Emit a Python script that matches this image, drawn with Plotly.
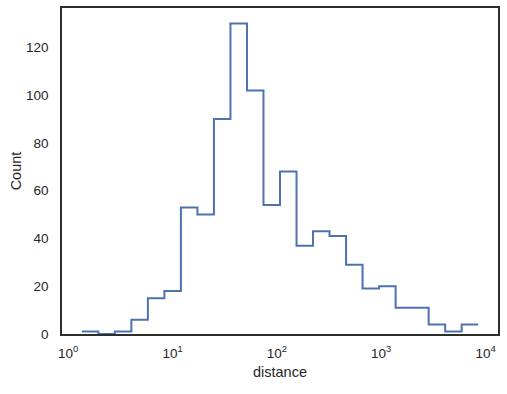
import numpy as np
import plotly.graph_objects as go

# Histogram of planet distances (log-spaced bins, step outline)
dist_min = 1.35
dist_max = 8500.0
counts = [1, 0, 1, 6, 15, 18, 53, 50, 90, 130, 102, 54, 68,
          37, 43, 41, 29, 19, 20, 11, 11, 4, 1, 4]
tick_vals = [1, 10, 100, 1000, 10000]
tick_text = ["10<sup>0</sup>", "10<sup>1</sup>", "10<sup>2</sup>",
             "10<sup>3</sup>", "10<sup>4</sup>"]
y_ticks = [0, 20, 40, 60, 80, 100, 120]

n_bins = len(counts)
edges = np.logspace(np.log10(dist_min), np.log10(dist_max), n_bins + 1)
ys = list(counts) + [counts[-1]]

fig = go.Figure()
fig.add_trace(go.Scatter(
    x=edges, y=ys, mode="lines", line_shape="hv",
    line=dict(color="#4c72b0", width=2), showlegend=False,
    hoverinfo="skip",
))

lo, hi = np.log10(dist_min), np.log10(dist_max)
span = hi - lo
font = dict(family="Liberation Sans, Arial, sans-serif", color="#262626")

fig.update_layout(
    width=507, height=394,
    margin=dict(l=62, r=9, t=8, b=60),
    paper_bgcolor="white", plot_bgcolor="white",
    font=dict(**font, size=13),
    xaxis=dict(
        type="log", range=[lo - 0.05 * span, hi + 0.05 * span],
        tickvals=tick_vals, ticktext=tick_text,
        showgrid=False, zeroline=False, automargin=False,
        showline=True, linecolor="#2e2e2e", linewidth=1.7, mirror=True,
        ticks="outside", ticklen=6, tickcolor="rgba(0,0,0,0)",
        tickfont=dict(size=13.5),
        title=dict(text="distance", font=dict(size=14.5), standoff=7),
    ),
    yaxis=dict(
        range=[0, max(counts) * 1.05],
        tickvals=y_ticks,
        showgrid=False, zeroline=False, automargin=False,
        showline=True, linecolor="#2e2e2e", linewidth=1.7, mirror=True,
        ticks="outside", ticklen=9, tickcolor="rgba(0,0,0,0)",
        tickfont=dict(size=13.5),
        title=dict(text="Count", font=dict(size=14.5), standoff=1),
    ),
)

fig.write_html(
    "out.html",
    config={"displayModeBar": False},
    post_script="document.body.style.margin='0';document.body.style.padding='0';",
)
